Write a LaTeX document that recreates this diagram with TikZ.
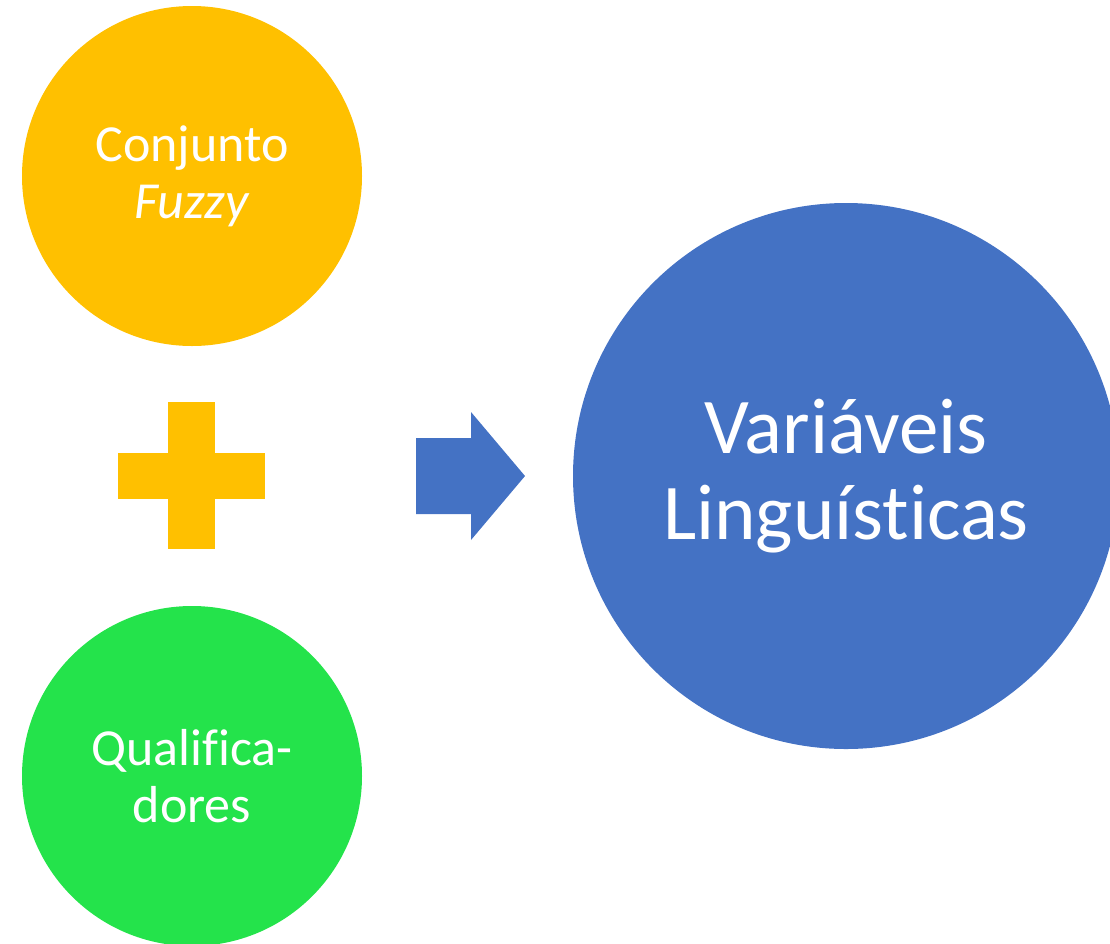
\documentclass[tikz,border=0pt]{standalone}
\usepackage{fontspec}
\setmainfont{Carlito}[RawFeature={-liga}]

\begin{document}
\begin{tikzpicture}[x=1pt, y=-1pt]
    \definecolor{yellowFill}{HTML}{FFC000}
    \definecolor{greenFill}{HTML}{24E34B}
    \definecolor{blueFill}{HTML}{4472C4}

    \tikzset{
        bubble/.style={circle, inner sep=0pt, text=white, align=center},
        smallbubble/.style={bubble, minimum size=340pt, font=\fontsize{52}{57}\selectfont},
        bigbubble/.style={bubble, minimum size=546pt, font=\fontsize{79}{86}\selectfont}
    }

    % Page frame
    \useasboundingbox (0,0) rectangle (1110,943);
    \clip (0,0) rectangle (1110,943);

    % Circles
    \node[smallbubble, fill=yellowFill] (fuzzy) at (192,176) {Conjunto\\\textit{Fuzzy}};
    \node[smallbubble, fill=greenFill] (quali) at (192,776) {Qualifica-\\dores};
    \node[bigbubble, fill=blueFill] (vars) at (846,476) {Variáveis\\Linguísticas};

    % Plus sign
    \fill[yellowFill] (168,402) rectangle (215,549);
    \fill[yellowFill] (118,453) rectangle (265,499);

    % Block arrow
    \fill[blueFill] (416,438) -- (471,438) -- (471,412) -- (525,476)
        -- (471,540) -- (471,514) -- (416,514) -- cycle;

\end{tikzpicture}
\end{document}
